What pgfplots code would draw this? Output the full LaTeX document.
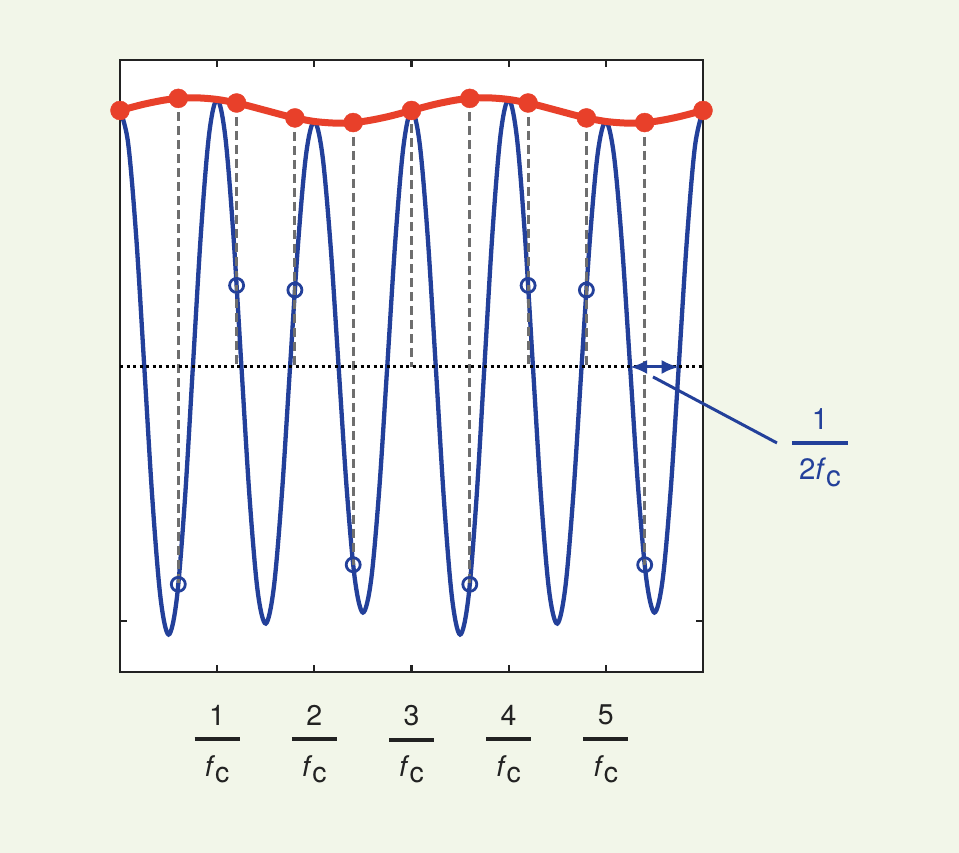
\documentclass[border=0pt]{standalone}
\usepackage{fontspec}
\setmainfont{TeX Gyre Heros}
\usepackage{pgfplots}
\pgfplotsset{compat=1.18}
\usepackage{pgfplotstable}
\usetikzlibrary{arrows.meta}
\definecolor{bg}{HTML}{F2F6E9}
\definecolor{sigblue}{HTML}{23409A}
\definecolor{envred}{HTML}{E8402A}
\definecolor{stemgray}{HTML}{6E6E6E}
\definecolor{axdark}{HTML}{222222}

\newcommand{\tfr}[1]{\vbox{\hbox to 45pt{\hss#1\hss}\kern12pt\hrule height 4pt\kern14pt\hbox to 45pt{\hss\textit{f}\raisebox{-6pt}{c}\hss}}}

% blue signal: k, value (t = k/12)
\pgfplotstableread{
k y
0 1.010
1 0.8822
2 0.5136
3 0
4 -0.5211
5 -0.9078
6 -1.0533
7 -0.9154
8 -0.5296
9 0
10 0.5296
11 0.9154
12 1.0533
13 0.9078
14 0.5211
15 0
16 -0.5136
17 -0.8822
18 -1.010
19 -0.8671
20 -0.4965
21 0
22 0.4890
23 0.8415
24 0.9667
25 0.8340
26 0.4804
27 0
28 -0.4804
29 -0.8340
30 -0.9667
31 -0.8415
32 -0.4890
33 0
34 0.4965
35 0.8671
36 1.010
37 0.8822
38 0.5136
39 0
40 -0.5211
41 -0.9078
42 -1.0533
43 -0.9154
44 -0.5296
45 0
46 0.5296
47 0.9154
48 1.0533
49 0.9078
50 0.5211
51 0
52 -0.5136
53 -0.8822
54 -1.010
55 -0.8671
56 -0.4965
57 0
58 0.4890
59 0.8415
60 0.9667
61 0.8340
62 0.4804
63 0
64 -0.4804
65 -0.8340
66 -0.9667
67 -0.8415
68 -0.4890
69 0
70 0.4965
71 0.8671
72 1.010
}\bluedata

% envelope
\pgfplotstableread{
t a
0 1.010
0.25 1.035
0.5 1.0533
0.75 1.060
1 1.0533
1.25 1.035
1.5 1.010
1.75 0.985
2 0.9667
2.25 0.960
2.5 0.9667
2.75 0.985
3 1.010
3.25 1.035
3.5 1.0533
3.75 1.060
4 1.0533
4.25 1.035
4.5 1.010
4.75 0.985
5 0.9667
5.25 0.960
5.5 0.9667
5.75 0.985
6 1.010
}\envdata

\begin{document}
\begin{tikzpicture}
\fill[bg] (0,0) rectangle (959pt,853pt);
\begin{axis}[
  at={(120pt,181pt)}, anchor=south west,
  scale only axis, width=583pt, height=612pt,
  xmin=0, xmax=6, ymin=-1.2008, ymax=1.2087,
  clip=false,
  axis background/.style={fill=white},
  axis line style={axdark, line width=2.8pt},
  xtick={1,2,3,4,5},
  xticklabels={{\tfr{1}},{\tfr{2}},{\tfr{3}},{\tfr{4}},{\tfr{5}}},
  ytick={-1}, yticklabels={},
  major tick length=7pt,
  tick style={axdark, line width=2.2pt},
  tick align=inside,
  xticklabel style={font=\fontsize{28.5}{30}\selectfont, inner sep=0pt, yshift=-33pt, text=axdark},
]
% signal
\addplot[sigblue, line width=4.3pt, smooth, tension=0.55] table[x expr=\thisrow{k}/12, y=y] {\bluedata};
% sample stems
\addplot[stemgray, line width=3pt, dash pattern=on 9pt off 5pt, unbounded coords=jump] coordinates {
(0.6,1.0576) (0.6,-0.8556) (0.6,nan)
(1.2,1.0394) (1.2,0) (1.2,nan)
(1.8,0.9806) (1.8,0) (1.8,nan)
(2.4,0.9624) (2.4,-0.7786) (2.4,nan)
(3.0,1.010) (3.0,0) (3.0,nan)
(3.6,1.0576) (3.6,-0.8556) (3.6,nan)
(4.2,1.0394) (4.2,0) (4.2,nan)
(4.8,0.9806) (4.8,0) (4.8,nan)
(5.4,0.9624) (5.4,-0.7786)
};
% zero line
\addplot[black, line width=3pt, dash pattern=on 3pt off 3.5pt] coordinates {(0,0) (6,0)};
% sampled values
\addplot[only marks, mark=o, mark size=7pt, sigblue, mark options={line width=2.8pt}] coordinates {
(0.6,-0.8556) (1.2,0.3212) (1.8,0.3030) (2.4,-0.7786)
(3.6,-0.8556) (4.2,0.3212) (4.8,0.3030) (5.4,-0.7786)
};
% envelope
\addplot[envred, line width=7pt, smooth] table[x=t, y=a] {\envdata};
\addplot[only marks, mark=*, mark size=9.5pt, envred, mark options={draw=envred, fill=envred}] coordinates {
(0,1.010) (0.6,1.0576) (1.2,1.0394) (1.8,0.9806) (2.4,0.9624) (3.0,1.010)
(3.6,1.0576) (4.2,1.0394) (4.8,0.9806) (5.4,0.9624) (6.0,1.010)
};
% half-period annotation
\draw[sigblue, line width=3pt, {Latex[length=17pt,width=14pt]}-{Latex[length=17pt,width=14pt]}] (axis cs:5.25,0) -- (axis cs:5.75,0);
\draw[sigblue, line width=3pt] (axis cs:5.485,-0.039) -- (axis cs:6.761,-0.299);
\node[anchor=north, inner sep=0pt, text=sigblue, font=\fontsize{29.5}{31}\selectfont] at (axis cs:7.204,-0.161)
  {\vbox{\hbox to 56pt{\hss 1\hss}\kern12pt\hrule height 3.5pt\kern13pt\hbox to 56pt{\hss 2\textit{f}\raisebox{-7pt}{c}\hss}}};
\end{axis}
\end{tikzpicture}
\end{document}
